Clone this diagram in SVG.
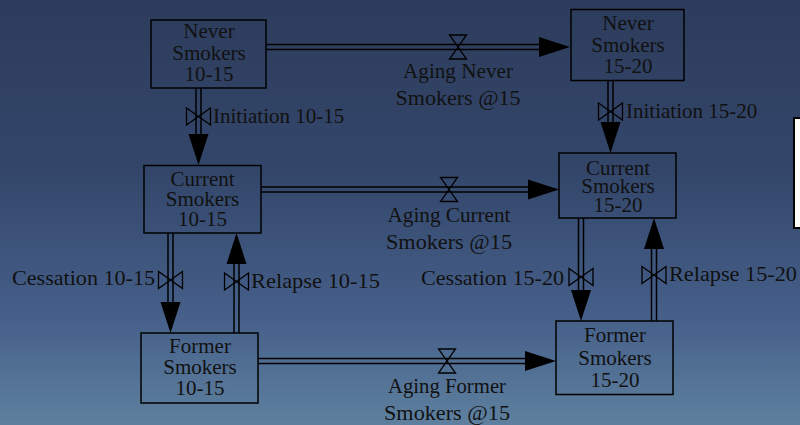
<svg xmlns="http://www.w3.org/2000/svg" xmlns:xlink="http://www.w3.org/1999/xlink" width="800" height="425" viewBox="0 0 800 425">
  <defs>
    <linearGradient id="bg" x1="0" y1="0" x2="0" y2="1">
      <stop offset="0" stop-color="#2d3c5c"/>
      <stop offset="0.4" stop-color="#33466a"/>
      <stop offset="0.75" stop-color="#46608a"/>
      <stop offset="1" stop-color="#5e809e"/>
    </linearGradient>
    <!-- arrowhead, tip at origin, pointing along +x -->
    <path id="arrow" d="M0,0 L-31,-10 L-31,10 Z" fill="#000"/>
    <!-- flow valve, flow direction along x -->
    <path id="valve" d="M-8.5,-12 H8.5 L-8.5,12 H8.5 Z" fill="none" stroke="#000" stroke-width="1.3"/>
  </defs>
  <style>
    .stock rect { fill: none; stroke: #000; stroke-width: 1.5; }
    text { font-family: "Liberation Serif", "Times New Roman", serif; font-size: 21px; fill: #111; }
    .stock text { text-anchor: middle; }
    .pipe { stroke: #000; stroke-width: 1.5; fill: none; }
    .mid { text-anchor: middle; }
    .end { text-anchor: end; }
  </style>

  <rect width="800" height="425" fill="url(#bg)"/>

  <!-- flows -->
  <g id="connectors">
    <!-- Aging Never Smokers @15 -->
    <g id="flow-aging-never">
      <path class="pipe" d="M266,44.5 H542 M266,49.5 H542"/>
      <use xlink:href="#arrow" transform="translate(570,47)"/>
      <use xlink:href="#valve" transform="translate(458,47)"/>
      <text class="mid" x="458" y="78" textLength="110" lengthAdjust="spacingAndGlyphs">Aging Never</text>
      <text class="mid" x="458" y="105" textLength="125" lengthAdjust="spacingAndGlyphs">Smokers @15</text>
    </g>
    <!-- Initiation 10-15 -->
    <g id="flow-init-1015">
      <path class="pipe" d="M196,88 V138 M201,88 V138"/>
      <use xlink:href="#arrow" transform="translate(198.5,165) rotate(90)"/>
      <use xlink:href="#valve" transform="translate(198.5,116.5) rotate(90)"/>
      <text x="213" y="123">Initiation 10-15</text>
    </g>
    <!-- Initiation 15-20 -->
    <g id="flow-init-1520">
      <path class="pipe" d="M608,80 V126 M613,80 V126"/>
      <use xlink:href="#arrow" transform="translate(610.5,153) rotate(90)"/>
      <use xlink:href="#valve" transform="translate(610.5,111.5) rotate(90)"/>
      <text x="626" y="118">Initiation 15-20</text>
    </g>
    <!-- Aging Current Smokers @15 -->
    <g id="flow-aging-current">
      <path class="pipe" d="M261,187 H532 M261,192 H532"/>
      <use xlink:href="#arrow" transform="translate(559,189.5)"/>
      <use xlink:href="#valve" transform="translate(449,189.5)"/>
      <text class="mid" x="449" y="222" textLength="123" lengthAdjust="spacingAndGlyphs">Aging Current</text>
      <text class="mid" x="449" y="249" textLength="126" lengthAdjust="spacingAndGlyphs">Smokers @15</text>
    </g>
    <!-- Cessation 10-15 -->
    <g id="flow-cess-1015">
      <path class="pipe" d="M168,233 V306 M173,233 V306"/>
      <use xlink:href="#arrow" transform="translate(170.5,333) rotate(90)"/>
      <use xlink:href="#valve" transform="translate(170.5,280) rotate(90)"/>
      <text class="end" x="155" y="285" textLength="143" lengthAdjust="spacingAndGlyphs">Cessation 10-15</text>
    </g>
    <!-- Relapse 10-15 -->
    <g id="flow-relapse-1015">
      <path class="pipe" d="M234,333 V260 M239,333 V260"/>
      <use xlink:href="#arrow" transform="translate(236.5,233) rotate(-90)"/>
      <use xlink:href="#valve" transform="translate(236.5,281.5) rotate(90)"/>
      <text x="251" y="288" textLength="129" lengthAdjust="spacingAndGlyphs">Relapse 10-15</text>
    </g>
    <!-- Cessation 15-20 -->
    <g id="flow-cess-1520">
      <path class="pipe" d="M578.5,218 V294 M583.5,218 V294"/>
      <use xlink:href="#arrow" transform="translate(581,321) rotate(90)"/>
      <use xlink:href="#valve" transform="translate(581,277) rotate(90)"/>
      <text class="end" x="564" y="285" textLength="143" lengthAdjust="spacingAndGlyphs">Cessation 15-20</text>
    </g>
    <!-- Relapse 15-20 -->
    <g id="flow-relapse-1520">
      <path class="pipe" d="M651.5,321 V245 M656.5,321 V245"/>
      <use xlink:href="#arrow" transform="translate(654,218) rotate(-90)"/>
      <use xlink:href="#valve" transform="translate(654,275) rotate(90)"/>
      <text x="669" y="281" textLength="128" lengthAdjust="spacingAndGlyphs">Relapse 15-20</text>
    </g>
    <!-- Aging Former Smokers @15 -->
    <g id="flow-aging-former">
      <path class="pipe" d="M258,358.5 H529 M258,363.5 H529"/>
      <use xlink:href="#arrow" transform="translate(556,361)"/>
      <use xlink:href="#valve" transform="translate(447,361)"/>
      <text class="mid" x="447" y="393" textLength="118" lengthAdjust="spacingAndGlyphs">Aging Former</text>
      <text class="mid" x="447" y="420" textLength="126" lengthAdjust="spacingAndGlyphs">Smokers @15</text>
    </g>
  </g>

  <!-- stocks -->
  <g id="never-1015" class="stock">
    <rect x="151" y="20" width="115" height="68"/>
    <text x="209" y="38">Never</text>
    <text x="209" y="60">Smokers</text>
    <text x="209" y="81">10-15</text>
  </g>
  <g id="never-1520" class="stock">
    <rect x="571" y="9.5" width="113" height="71"/>
    <text x="628" y="30">Never</text>
    <text x="628" y="52">Smokers</text>
    <text x="628" y="73">15-20</text>
  </g>
  <g id="current-1015" class="stock">
    <rect x="144" y="165.5" width="117" height="67.5"/>
    <text x="202.5" y="186">Current</text>
    <text x="202.5" y="206">Smokers</text>
    <text x="202.5" y="226">10-15</text>
  </g>
  <g id="current-1520" class="stock">
    <rect x="559" y="153" width="117" height="65"/>
    <text x="618" y="175">Current</text>
    <text x="618" y="193">Smokers</text>
    <text x="618" y="212">15-20</text>
  </g>
  <g id="former-1015" class="stock">
    <rect x="141" y="333" width="117" height="70"/>
    <text x="200" y="353">Former</text>
    <text x="200" y="374">Smokers</text>
    <text x="200" y="395">10-15</text>
  </g>
  <g id="former-1520" class="stock">
    <rect x="556" y="321" width="117" height="73.5"/>
    <text x="615" y="342">Former</text>
    <text x="615" y="365">Smokers</text>
    <text x="615" y="387">15-20</text>
  </g>

  <!-- panel at right edge -->
  <rect x="794" y="118" width="12" height="110" fill="#fffdf7" stroke="#000" stroke-width="2"/>
</svg>
